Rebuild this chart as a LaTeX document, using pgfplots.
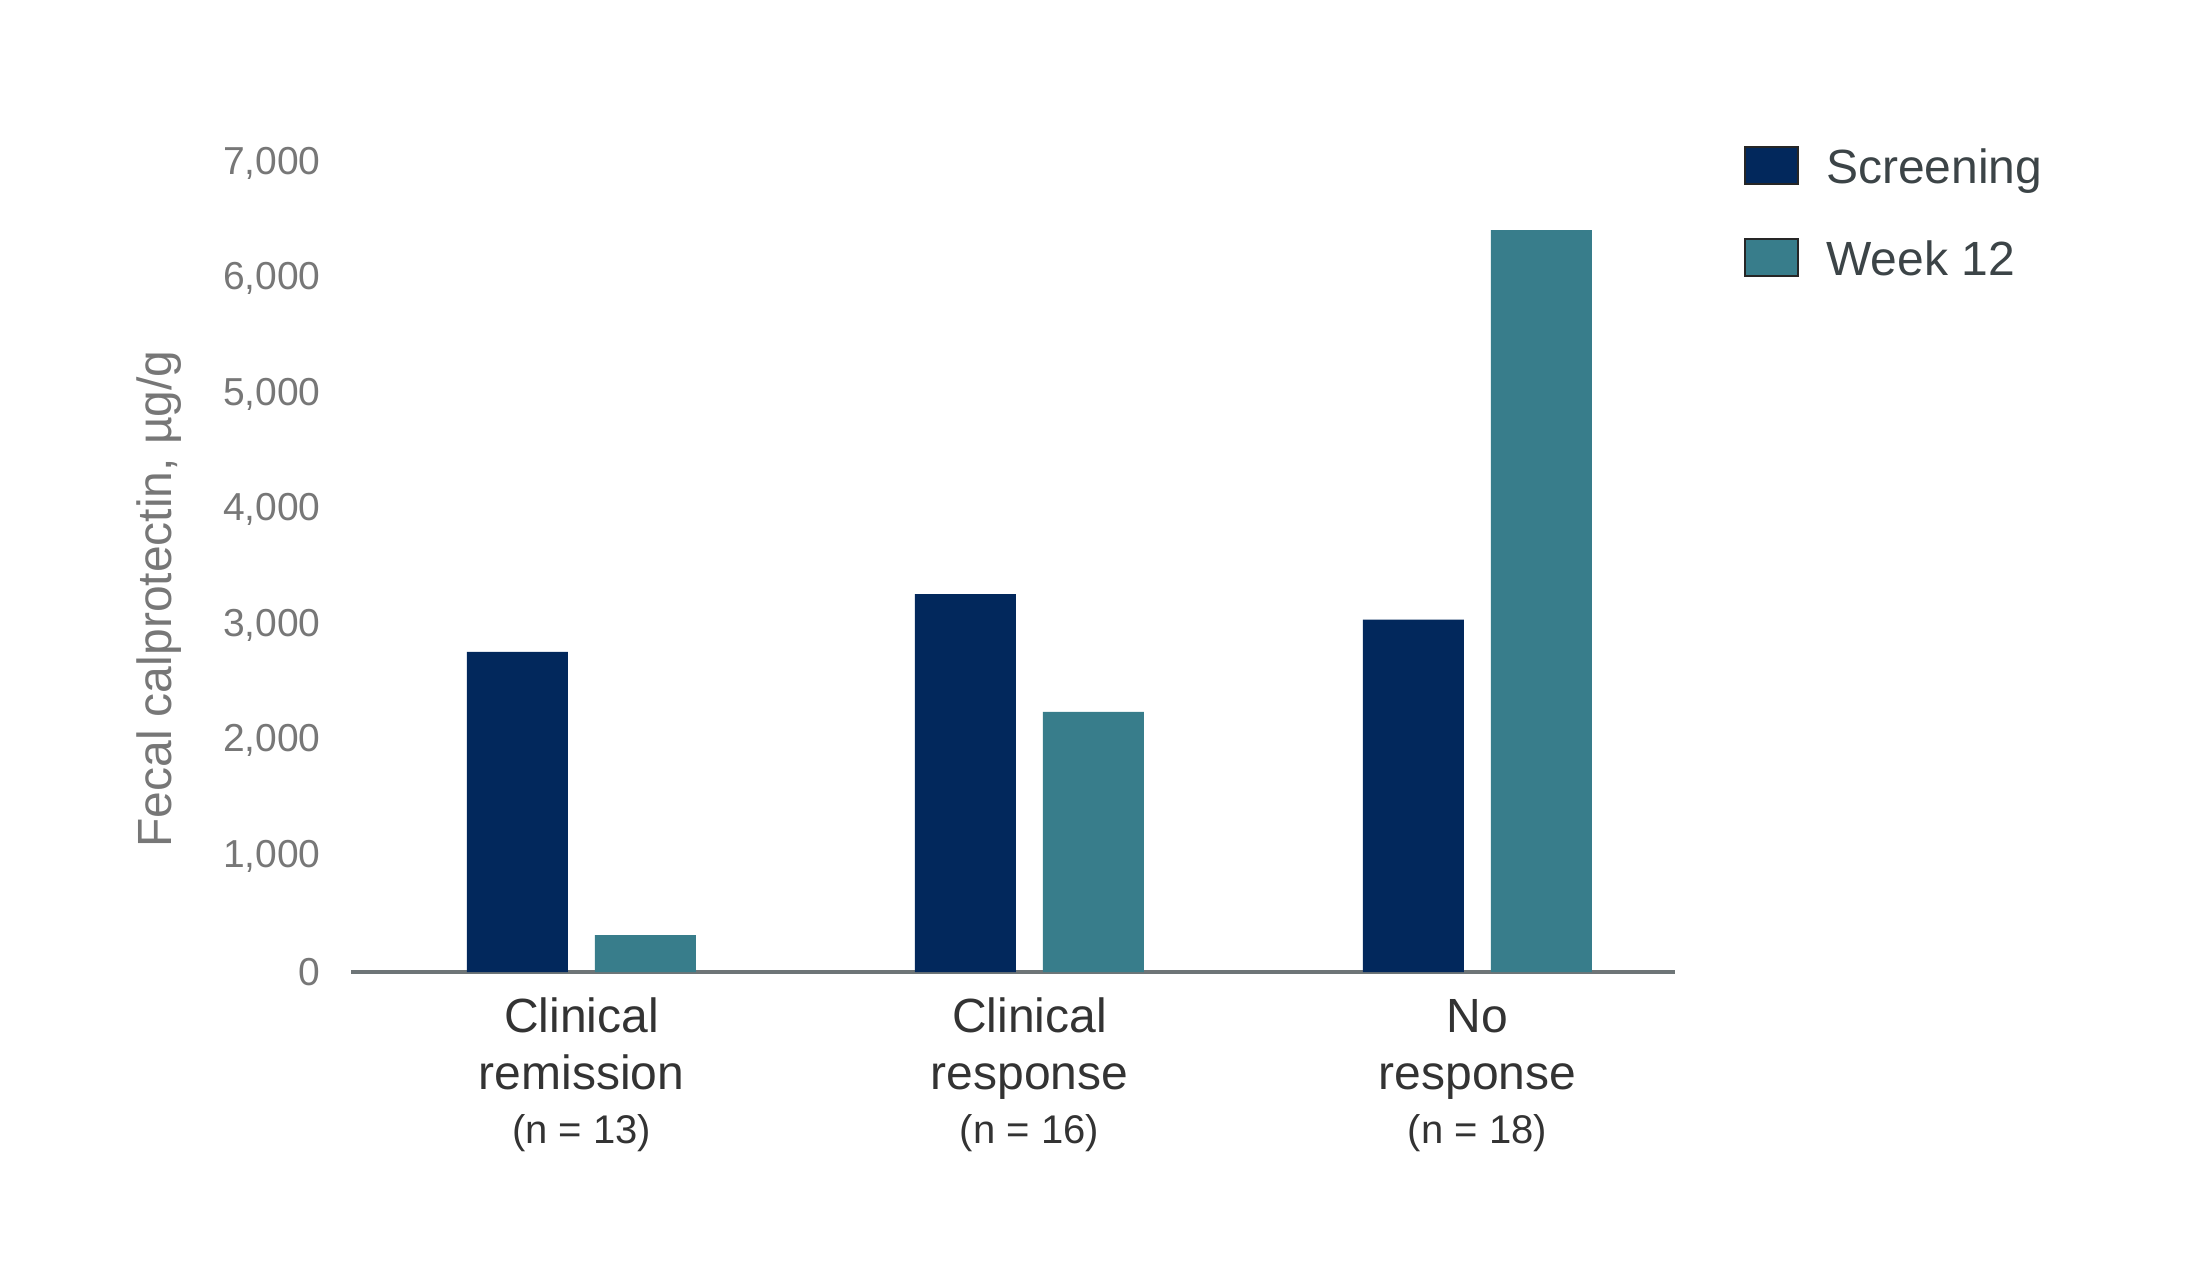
\documentclass[border=0pt]{standalone}
\usepackage{fontspec}
\setmainfont{Liberation Sans}
\usepackage{pgfplots}
\pgfplotsset{compat=1.18}

\definecolor{screen}{HTML}{02285C}
\definecolor{wk}{HTML}{387D8B}
\definecolor{axisgray}{HTML}{6E7577}
\definecolor{ticktext}{HTML}{777777}
\definecolor{cattext}{HTML}{333333}
\definecolor{legtext}{HTML}{3C4447}

\begin{document}
\begin{tikzpicture}
\useasboundingbox (0,0) rectangle (1100.5pt,632pt);
\begin{axis}[
  at={(175.5pt,146pt)}, anchor=south west,
  scale only axis, width=662pt, height=404.5pt,
  ybar=13.5pt, bar width=50.5pt,
  xmin=-0.5145, xmax=2.441, ymin=0, ymax=7000,
  axis x line*=bottom, axis y line*=left,
  x axis line style={-, draw=axisgray, line width=1.75pt},
  y axis line style={draw=none},
  major tick length=0pt,
  xtick={0,1,2},
  xticklabels={
    {Clinical\\remission\\[-1.5pt]{\fontsize{20}{24}\selectfont (n = 13)}},
    {Clinical\\response\\[-1.5pt]{\fontsize{20}{24}\selectfont (n = 16)}},
    {\vphantom{Cl}No\\response\\[-1.5pt]{\fontsize{20}{24}\selectfont (n = 18)}}},
  x tick label style={font=\fontsize{24}{28.5}\selectfont, text=cattext,
    align=center, anchor=north, inner sep=0pt, yshift=-12.5pt},
  ytick={0,1000,...,7000},
  /pgf/number format/1000 sep={,},
  /pgf/number format/assume math mode=true,
  y tick label style={font=\fontsize{19.5}{23}\selectfont, text=ticktext,
    anchor=east, inner sep=0pt, xshift=-15pt},
  ylabel={Fecal calprotectin, µg/g},
  every axis y label/.style={at={(rel axis cs:0,0.461)}, xshift=-96pt,
    rotate=90, anchor=center, font=\fontsize{24}{28}\selectfont, text=ticktext},
  legend style={at={(rel axis cs:1.052,1.022)}, anchor=north west,
    draw=none, fill=none, inner sep=0pt, row sep=22pt, column sep=13.5pt,
    font=\fontsize{24}{28}\selectfont, text=legtext,
    nodes={inner sep=0pt, text height=17pt, text depth=5pt},
    cells={anchor=base west}},
  clip=false,
]
\addplot[fill=screen, draw=none,
  legend image code/.code={\draw[fill=screen, draw=black!85, line width=1pt] (0pt,0pt) rectangle (26.5pt,18.5pt);}]
  coordinates {(0,2770) (1,3270) (2,3050)};
\addlegendentry{Screening}
\addplot[fill=wk, draw=none,
  legend image code/.code={\draw[fill=wk, draw=black!85, line width=1pt] (0pt,0pt) rectangle (26.5pt,18.5pt);}]
  coordinates {(0,320) (1,2250) (2,6420)};
\addlegendentry{Week 12}
\end{axis}
\end{tikzpicture}
\end{document}
